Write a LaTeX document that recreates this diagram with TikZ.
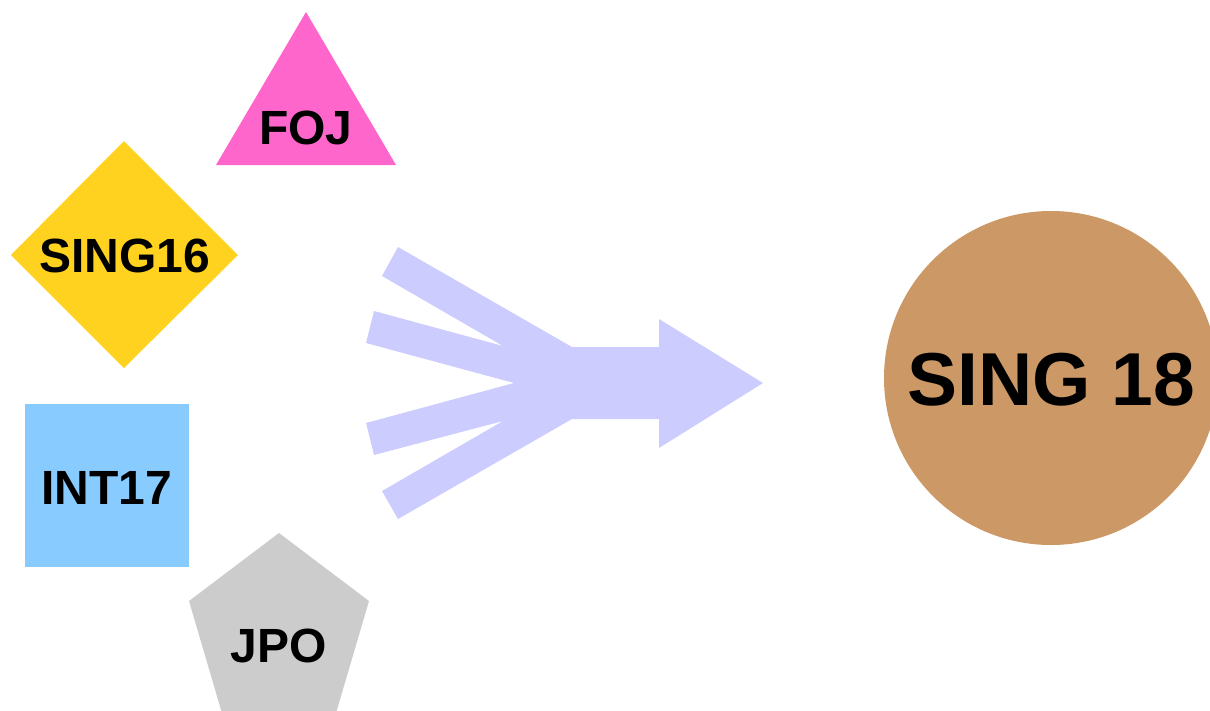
\documentclass[tikz,border=0pt]{standalone}
\usepackage{fontspec}
\setmainfont{Liberation Sans}
\definecolor{cpink}{HTML}{FF66CC}
\definecolor{cyellow}{HTML}{FFD21F}
\definecolor{cblue}{HTML}{88CCFF}
\definecolor{cgray}{HTML}{CCCCCC}
\definecolor{cbrown}{HTML}{CC9966}
\definecolor{clav}{HTML}{CCCCFF}
\begin{document}
\begin{tikzpicture}[x=1pt,y=-1pt,
  lbl/.style={font=\fontsize{48}{50}\selectfont\bfseries, inner sep=0pt, text=black},
  biglbl/.style={font=\fontsize{75}{78}\selectfont\bfseries, inner sep=0pt, text=black}]
\useasboundingbox (0,0) rectangle (1210,710);
\clip (0,0) rectangle (1210,710);
% shapes
\fill[cpink] (306,12) -- (396,165) -- (216,165) -- cycle;
\fill[cyellow] (124,141) -- (238,255) -- (124,368) -- (11,255) -- cycle;
\fill[cblue] (25,404) rectangle (189,567);
\fill[cgray] (279,533) -- (369,601) -- (334,720) -- (224,720) -- (189,601) -- cycle;
\fill[cbrown] (1051,378) circle[radius=167];
% merging arrow
\fill[clav] (398,247) -- (572,347) -- (659,347) -- (659,319) -- (763,383) -- (659,448)
  -- (659,419) -- (572,419) -- (398,519) -- (382,491) -- (503,421) -- (374,455)
  -- (366,423) -- (514,383) -- (366,343) -- (374,311) -- (503,346) -- (382,276) -- cycle;
% labels
\node[lbl] (foj) at (306,128) {FOJ};
\node[lbl] (sing16) at (125,256) {SING16};
\node[lbl] (int17) at (107,488) {INT17};
\node[lbl] (jpo) at (279,646) {JPO};
\node[biglbl] (sing18) at (1051,380) {SING 18};
\end{tikzpicture}
\end{document}
